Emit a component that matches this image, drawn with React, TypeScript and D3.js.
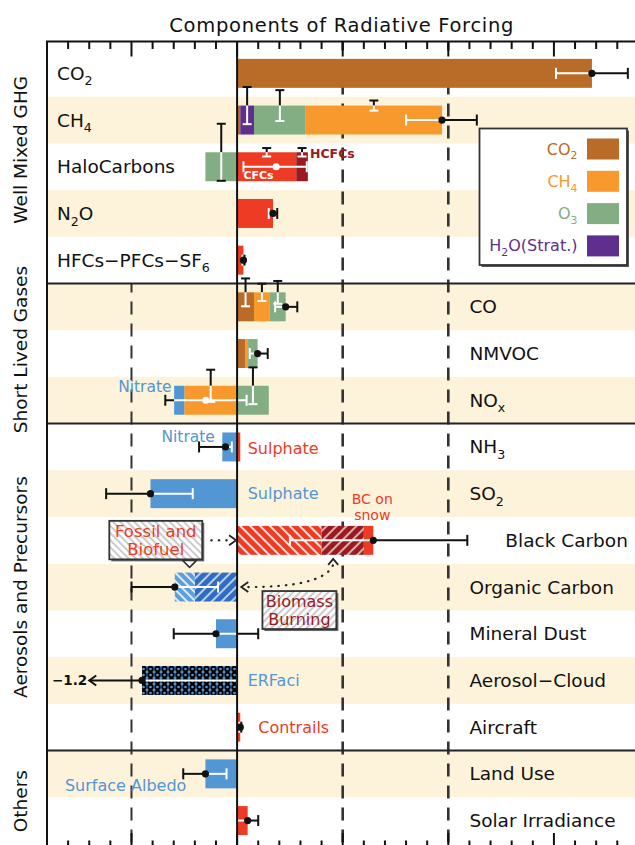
import React from "react";
import * as d3 from "d3";

// Rows of the forcing chart, top to bottom ("_x" marks a subscript character)
const rowNames = [
  "CO_2", "CH_4", "HaloCarbons", "N_2O", "HFCs−PFCs−SF_6",
  "CO", "NMVOC", "NO_x",
  "NH_3", "SO_2", "Black Carbon", "Organic Carbon", "Mineral Dust", "Aerosol−Cloud", "Aircraft",
  "Land Use", "Solar Irradiance",
];
const sectionNames = ["Well Mixed GHG", "Short Lived Gases", "Aerosols and Precursors", "Others"];
const sectionSizes = [5, 3, 7, 2];

// Fill colours by component kind
const fills: Record<string, string> = {
  co2: "#B96B28",
  ch4: "#F7992C",
  o3: "#83AE84",
  h2o: "#5E2F8F",
  red: "#EE3B24",
  darkred: "#9A1B1F",
  blue: "#5396D4",
  bcFossil: "url(#hatchRed)",
  bcBiomass: "url(#hatchDarkRed)",
  ocFossil: "url(#hatchBlueLight)",
  ocBiomass: "url(#hatchBlue)",
  aci: "url(#dotsBlue)",
};

const legendKeys = ["co2", "ch4", "o3", "h2o"];
const legendNames = ["CO_2", "CH_4", "O_3", "H_2O(Strat.)"];

// [row, kind, forcing (W m-2), component spread (W m-2)] stacked outward from zero in order
const components: [number, string, number, number][] = [
  [0, "co2", 1.68, 0],
  [1, "co2", 0.015, 0], [1, "h2o", 0.065, 0.088], [1, "o3", 0.245, 0.073], [1, "ch4", 0.645, 0.024],
  [2, "o3", -0.15, 0.135], [2, "red", 0.28, 0.02], [2, "darkred", 0.055, 0.02],
  [3, "red", 0.17, 0],
  [4, "red", 0.03, 0],
  [5, "co2", 0.08, 0.066], [5, "ch4", 0.075, 0.041], [5, "o3", 0.075, 0.054],
  [6, "co2", 0.04, 0], [6, "ch4", 0.012, 0], [6, "o3", 0.045, 0],
  [7, "ch4", -0.25, 0.076], [7, "blue", -0.048, 0], [7, "o3", 0.15, 0.087],
  [8, "blue", -0.07, 0], [8, "red", 0.015, 0],
  [9, "blue", -0.41, 0],
  [10, "bcFossil", 0.4, 0], [10, "bcBiomass", 0.2, 0], [10, "red", 0.045, 0],
  [11, "ocBiomass", -0.2, 0], [11, "ocFossil", -0.095, 0],
  [12, "blue", -0.1, 0],
  [13, "aci", -0.45, 0],
  [14, "red", 0.015, 0],
  [15, "blue", -0.15, 0],
  [16, "red", 0.05, 0],
];

// Uncertainty range of each row total (W m-2)
const rangeLow = [1.51, 0.8, 0.03, 0.15, 0.025, 0.18, 0.06, -0.34, -0.18, -0.62, 0.25, -0.5, -0.3, -1.2, 0.01, -0.255, 0.0];
const rangeHigh = [1.85, 1.135, 0.33, 0.19, 0.035, 0.285, 0.145, 0.045, -0.025, -0.21, 1.09, -0.09, 0.1, 0.0, 0.02, -0.05, 0.1];

// Axis ticks every 0.1, long ticks every 0.5; dashed guides
const axisTicks = d3.range(-9, 19).map((v) => v / 10);
const guideValues = [-0.5, 0.5, 1.0];
const guideFirstSection = [1, 0, 0];

const FONT = "DejaVu Sans, sans-serif";
const BEIGE = "#FDF3DA";

function Rich({ text, x, y, size, fill = "#111", anchor = "start", weight = "normal", spacing = 0 }: any) {
  const parts = text.split(/(_.)/).filter((p: string) => p.length > 0);
  const shift = size * 0.3;
  let lowered = false;
  return (
    <text x={x} y={y} fontSize={size} fill={fill} textAnchor={anchor} fontFamily={FONT}
      fontWeight={weight} letterSpacing={spacing}>
      {parts.map((p: string, i: number) => {
        if (p.startsWith("_")) {
          const dy = lowered ? 0 : shift;
          lowered = true;
          return <tspan key={i} fontSize={size * 0.68} dy={dy}>{p[1]}</tspan>;
        }
        const dy = lowered ? -shift : 0;
        lowered = false;
        return <tspan key={i} dy={dy}>{p}</tspan>;
      })}
    </text>
  );
}

export default function App() {
  const W = 635, H = 845;
  const x = d3.scaleLinear().domain([-0.9, 1.9]).range([47, 638.4]);
  const rows = d3.range(rowNames.length);
  const y = d3.scaleBand<number>().domain(rows).range([50, 50 + 46.7 * rows.length]);
  const step = y.step();
  const yc = (i: number) => (y(i) as number) + step / 2;
  const barH = step * 0.62;
  const k = x(1) - x(0);
  const top = 41.5, bottom = 848;
  const [left, right] = x.range();

  // stack the components outward from zero
  const posAcc = rows.map(() => 0);
  const negAcc = rows.map(() => 0);
  const segs = components.map(([row, key, v, unc]) => {
    let a: number, b: number;
    if (v >= 0) { a = posAcc[row]; b = a + v; posAcc[row] = b; }
    else { b = negAcc[row]; a = b + v; negAcc[row] = a; }
    return { row, key, v, unc, a, b };
  });
  const totals = rows.map((r) => d3.sum(components.filter((c) => c[0] === r), (c) => c[2]));

  // section boundaries
  const sectionStart: number[] = [];
  sectionSizes.reduce((acc, n) => { sectionStart.push(acc); return acc + n; }, 0);
  const sectionLabelNudge = [-17, -4, 0, 4];

  const whiskerFloor = -0.7;

  const totalWhiskers = rows.map((r) => {
    const t = totals[r];
    const lo = rangeLow[r], hi = rangeHigh[r];
    const smin = negAcc[r], smax = posAcc[r];
    const tol = 0.02;
    const edge = Math.abs(t - smin) < tol || Math.abs(t - smax) < tol;
    const clipped = lo < x.domain()[0];
    const loShown = clipped ? whiskerFloor : lo;
    const cuts = [loShown, hi, t, smin, smax].filter((v) => v >= loShown && v <= hi);
    const pts = Array.from(new Set(cuts)).sort((p, q) => p - q);
    const isBlack = (m: number) =>
      m < smin - 1e-9 || m > smax + 1e-9 || (edge && (t >= 0 ? m > t : m < t));
    const pieces = d3.pairs(pts).map(([p, q]) => ({ p, q, black: isBlack((p + q) / 2) }));
    return { r, t, lo, hi, loShown, clipped, pieces, edge,
      loBlack: isBlack(loShown + 1e-6), hiBlack: isBlack(hi - 1e-6) };
  });

  const legendX0 = 479.5, legendY0 = 128.5, legendW = 147.5, legendH = 136.5;

  return (
    <svg width={W} height={H} style={{ position: "absolute", left: 0, top: 0, background: "#fff" }}
      fontFamily={FONT}>
      <defs>
        <pattern id="hatchRed" patternUnits="userSpaceOnUse" width="7" height="7" patternTransform="rotate(-45)">
          <rect width="7" height="7" fill={fills.red} />
          <line x1="1" y1="0" x2="1" y2="7" stroke="#fff" strokeWidth="1.7" />
        </pattern>
        <pattern id="hatchDarkRed" patternUnits="userSpaceOnUse" width="7" height="7" patternTransform="rotate(45)">
          <rect width="7" height="7" fill={fills.darkred} />
          <line x1="1" y1="0" x2="1" y2="7" stroke="#fff" strokeWidth="1.5" opacity="0.85" />
        </pattern>
        <pattern id="hatchBlue" patternUnits="userSpaceOnUse" width="7" height="7" patternTransform="rotate(45)">
          <rect width="7" height="7" fill="#2F6CC2" />
          <line x1="1" y1="0" x2="1" y2="7" stroke="#fff" strokeWidth="1.5" opacity="0.9" />
        </pattern>
        <pattern id="hatchBlueLight" patternUnits="userSpaceOnUse" width="6" height="6" patternTransform="rotate(-45)">
          <rect width="6" height="6" fill="#5D9FDB" />
          <line x1="1" y1="0" x2="1" y2="6" stroke="#fff" strokeWidth="1.6" />
        </pattern>
        <pattern id="dotsBlue" patternUnits="userSpaceOnUse" width="7" height="6">
          <rect width="7" height="6" fill={fills.blue} />
          <circle cx="3.5" cy="3" r="2.3" fill="none" stroke="#000" strokeWidth="1.9" />
        </pattern>
        <pattern id="hatchGrayBack" patternUnits="userSpaceOnUse" width="5" height="5" patternTransform="rotate(-45)">
          <rect width="5" height="5" fill="#fff" />
          <line x1="1" y1="0" x2="1" y2="5" stroke="#A8A8A8" strokeWidth="1.2" />
        </pattern>
        <pattern id="hatchGrayFwd" patternUnits="userSpaceOnUse" width="5" height="5" patternTransform="rotate(45)">
          <rect width="5" height="5" fill="#fff" />
          <line x1="1" y1="0" x2="1" y2="5" stroke="#A8A8A8" strokeWidth="1.2" />
        </pattern>
      </defs>

      {/* alternating row shading */}
      {rows.filter((r) => r % 2 === 1).map((r) => (
        <rect key={r} x={left} y={y(r)} width={right - left} height={step} fill={BEIGE} />
      ))}

      {/* dashed guides */}
      {guideValues.map((v, i) => (
        <line key={v} x1={x(v)} x2={x(v)}
          y1={guideFirstSection[i] === 0 ? top : (y(sectionStart[guideFirstSection[i]]) as number)}
          y2={bottom} stroke="#333" strokeWidth={v < 0 ? 2 : 2.6} strokeDasharray="13,9"
          strokeDashoffset={v < 0 ? 4 : -18} />
      ))}

      {/* section separators */}
      {sectionStart.slice(1).map((s) => (
        <line key={s} x1={left} x2={right} y1={y(s)} y2={y(s)} stroke="#222" strokeWidth={2} />
      ))}

      {/* stacked bars */}
      {segs.map((s, i) => (
        <rect key={i} x={x(s.a)} width={x(s.b) - x(s.a)} y={yc(s.row) - barH / 2} height={barH}
          fill={fills[s.key]} />
      ))}

      {/* component spreads drawn across the bar's top edge */}
      {segs.filter((s) => s.unc > 0).map((s, i) => {
        const cx = x((s.a + s.b) / 2);
        const barTop = yc(s.row) - barH / 2;
        const barBot = yc(s.row) + barH / 2;
        const t0 = barTop - s.unc * k;
        const b0 = barTop + s.unc * k;
        const botColor = b0 >= barBot - 1 ? "#111" : "#fff";
        return (
          <g key={i} strokeWidth={2}>
            <line x1={cx} x2={cx} y1={t0} y2={barTop} stroke="#111" />
            <line x1={cx} x2={cx} y1={barTop} y2={b0} stroke="#fff" />
            <line x1={cx - 4.5} x2={cx + 4.5} y1={t0} y2={t0} stroke="#111" />
            <line x1={cx - 4.5} x2={cx + 4.5} y1={b0} y2={b0} stroke={botColor} />
          </g>
        );
      })}

      {/* total uncertainty whiskers */}
      {totalWhiskers.map((w) => {
        const cy = yc(w.r);
        const dotWhite = !w.edge;
        return (
          <g key={w.r} strokeWidth={2}>
            {w.pieces.map((p, j) => (
              <line key={j} x1={x(p.p)} x2={x(p.q)} y1={cy} y2={cy} stroke={p.black ? "#111" : "#fff"} />
            ))}
            {w.clipped ? (
              <path d={`M${x(w.loShown) + 7},${cy - 5} L${x(w.loShown)},${cy} L${x(w.loShown) + 7},${cy + 5}`}
                fill="none" stroke="#111" strokeWidth={2} />
            ) : (
              <line x1={x(w.lo)} x2={x(w.lo)} y1={cy - 5.5} y2={cy + 5.5} stroke={w.loBlack ? "#111" : "#fff"} />
            )}
            <line x1={x(w.hi)} x2={x(w.hi)} y1={cy - 5.5} y2={cy + 5.5} stroke={w.hiBlack ? "#111" : "#fff"} />
            <circle cx={x(w.t)} cy={cy} r={3.6} fill={dotWhite ? "#fff" : "#111"} stroke="none" />
            {w.clipped && (
              <text x={x(w.loShown) - 2} y={cy + 5} textAnchor="end" fontSize={13.5} fontWeight="bold" fill="#111">
                {w.lo.toFixed(1).replace("-", "−")}
              </text>
            )}
          </g>
        );
      })}

      {/* zero line */}
      <line x1={x(0)} x2={x(0)} y1={top} y2={bottom} stroke="#111" strokeWidth={2} />

      {/* frame and ticks */}
      <rect x={left} y={top} width={right - left} height={bottom - top} fill="none" stroke="#111" strokeWidth={2} />
      {axisTicks.map((v) => {
        const major = Math.round(v * 10) % 5 === 0;
        const len = major ? 15 : 7.5;
        return (
          <g key={v} stroke="#111" strokeWidth={2}>
            <line x1={x(v)} x2={x(v)} y1={top} y2={top + len} />
            <line x1={x(v)} x2={x(v)} y1={bottom} y2={bottom - len} />
          </g>
        );
      })}

      {/* title */}
      <text x={(left + right) / 2 - 1} y={32} textAnchor="middle" fontSize={19.5} letterSpacing={0.7} fill="#111">
        Components of Radiative Forcing
      </text>

      {/* section labels */}
      {sectionNames.map((name, i) => {
        const s = sectionStart[i];
        const e = s + sectionSizes[i] - 1;
        const cy = ((y(s) as number) + (y(e) as number) + step) / 2 + sectionLabelNudge[i];
        return (
          <text key={name} transform={`translate(27,${cy}) rotate(-90)`} textAnchor="middle"
            fontSize={18.5} fill="#111">{name}</text>
        );
      })}

      {/* row labels */}
      {rows.map((r) => {
        const inside = r < sectionSizes[0];
        const lx = inside ? left + 10 : rowNames[r] === "Black Carbon" ? x(1.27) : x(1.1);
        return <Rich key={r} text={rowNames[r]} x={lx} y={yc(r) + 6.5} size={18.5} />;
      })}

      {/* component annotations */}
      <text x={x(0.345)} y={yc(2) - 9} fontSize={12.5} fill={fills.darkred} fontWeight="bold">HCFCs</text>
      <text x={x(0.03)} y={yc(2) + 12} fontSize={11} fill="#fff" fontWeight="bold">CFCs</text>
      <text x={x(-0.31)} y={yc(7) - 8} fontSize={15.5} fill={fills.blue} textAnchor="end">Nitrate</text>
      <text x={x(-0.105)} y={yc(8) - 5} fontSize={15.5} fill={fills.blue} textAnchor="end">Nitrate</text>
      <text x={x(0.05)} y={yc(8) + 7} fontSize={16} fill={fills.red}>Sulphate</text>
      <text x={x(0.05)} y={yc(9) + 5.5} fontSize={16} fill={fills.blue}>Sulphate</text>
      <text x={x(0.64)} y={yc(10) - 36} fontSize={14} fill={fills.red} textAnchor="middle">BC on</text>
      <text x={x(0.64)} y={yc(10) - 20} fontSize={14} fill={fills.red} textAnchor="middle">snow</text>
      <text x={x(0.05)} y={yc(13) + 6} fontSize={16} fill={fills.blue}>ERFaci</text>
      <text x={x(0.1)} y={yc(14) + 6} fontSize={16} fill={fills.red}>Contrails</text>
      <text x={x(-0.815)} y={yc(15) + 17} fontSize={16} fill={fills.blue}>Surface Albedo</text>

      {/* fossil and biofuel callout */}
      {(() => {
        const bx0 = x(-0.605), bx1 = x(-0.165), by0 = yc(10) - 19.5, by1 = yc(10) + 19;
        const tx = x(-0.225);
        const ay = yc(10);
        return (
          <g>
            <rect x={bx0 + 2} y={by0 + 2} width={bx1 - bx0} height={by1 - by0} fill="#666" />
            <rect x={bx0} y={by0} width={bx1 - bx0} height={by1 - by0} fill="url(#hatchGrayBack)" stroke="#333" strokeWidth={1.8} />
            <path d={`M${tx - 7},${by1 + 1} L${tx + 7},${by1 + 1} L${tx},${by1 + 8} Z`} fill="#fff" stroke="#333" strokeWidth={1.6} strokeLinejoin="round" />
            <text x={(bx0 + bx1) / 2} y={by0 + 16} fontSize={16.5} fill={fills.red} textAnchor="middle">Fossil and</text>
            <text x={(bx0 + bx1) / 2} y={by0 + 34} fontSize={16.5} fill={fills.red} textAnchor="middle">Biofuel</text>
            <line x1={bx1 + 9} x2={x(-0.03)} y1={ay} y2={ay} stroke="#222" strokeWidth={2.2} strokeDasharray="0.5,7" strokeLinecap="round" />
            <path d={`M${x(0) - 8},${ay - 5} L${x(0) - 1},${ay} L${x(0) - 8},${ay + 5}`} fill="none" stroke="#222" strokeWidth={1.8} />
          </g>
        );
      })()}

      {/* biomass burning callout */}
      {(() => {
        const bx0 = x(0.12), bx1 = x(0.47), by0 = yc(11) + 4, by1 = yc(11) + 42;
        const ax = x(0.015), ay = yc(11);
        const tipX = x(0.455), tipY = yc(10) + barH / 2 + 4;
        return (
          <g>
            <rect x={bx0 + 2} y={by0 + 2} width={bx1 - bx0} height={by1 - by0} fill="#666" />
            <rect x={bx0} y={by0} width={bx1 - bx0} height={by1 - by0} fill="url(#hatchGrayFwd)" stroke="#333" strokeWidth={1.8} />
            <text x={(bx0 + bx1) / 2} y={by0 + 16} fontSize={16} fill={fills.darkred} textAnchor="middle">Biomass</text>
            <text x={(bx0 + bx1) / 2} y={by0 + 34} fontSize={16} fill={fills.darkred} textAnchor="middle">Burning</text>
            <path d={`M${ax + 8},${ay} C${x(0.25)},${ay} ${x(0.42)},${ay - 5} ${tipX},${tipY + 6}`}
              fill="none" stroke="#222" strokeWidth={2.2} strokeDasharray="0.5,7" strokeLinecap="round" />
            <path d={`M${ax + 8},${ay - 5} L${ax + 1},${ay} L${ax + 8},${ay + 5}`} fill="none" stroke="#222" strokeWidth={1.8} />
            <path d={`M${tipX - 5},${tipY + 6} L${tipX},${tipY} L${tipX + 5},${tipY + 6}`} fill="none" stroke="#222" strokeWidth={1.8} />
          </g>
        );
      })()}

      {/* legend */}
      <rect x={legendX0 + 2} y={legendY0 + 2} width={legendW} height={legendH} fill="#555" />
      <rect x={legendX0} y={legendY0} width={legendW} height={legendH} fill="#fff" stroke="#333" strokeWidth={1.8} />
      {legendKeys.map((key, i) => {
        const sy = legendY0 + 10 + i * 32.3;
        return (
          <g key={key}>
            <rect x={legendX0 + 107.5} y={sy} width={32} height={21} fill={fills[key]} />
            <Rich text={legendNames[i]} x={legendX0 + 98} y={sy + 16} size={16} fill={fills[key]} anchor="end" />
          </g>
        );
      })}
    </svg>
  );
}
